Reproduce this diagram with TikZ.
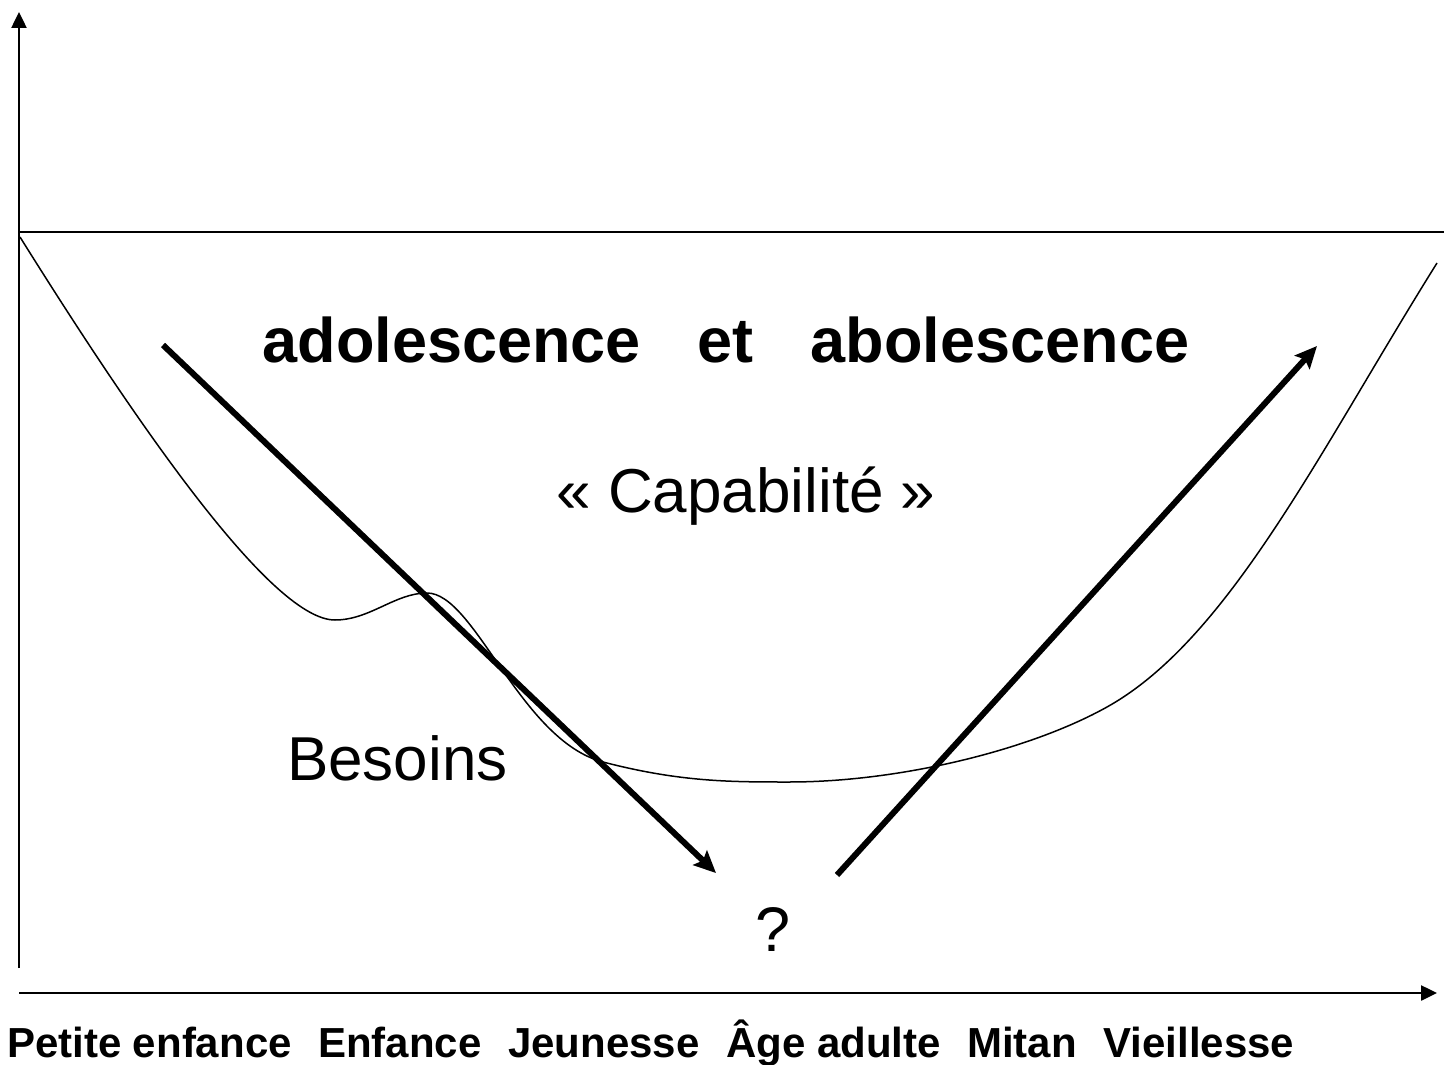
\documentclass[tikz,border=0pt]{standalone}
\usepackage{fontspec}
\setmainfont{Liberation Sans}
\usetikzlibrary{arrows.meta}
\tikzset{
  axis/.style={line width=2.5pt, -{Triangle[length=16pt,width=15pt]}},
  thinline/.style={line width=1.7pt},
  curveline/.style={line width=1.5pt, line join=round},
  bigarrow/.style={line width=6pt, -{Stealth[length=22pt,width=20pt,inset=4pt]}},
  txt/.style={inner sep=0pt, outer sep=0pt, font=\fontsize{62}{70}\selectfont},
  titletxt/.style={inner sep=0pt, outer sep=0pt, font=\fontsize{63}{70}\selectfont\bfseries},
  agetxt/.style={inner sep=0pt, outer sep=0pt, font=\fontsize{42}{48}\selectfont\bfseries}
}
\begin{document}
\begin{tikzpicture}[x=1pt,y=-1pt]
\useasboundingbox (0,0) rectangle (1444,1065);
% axes
\coordinate (ybot) at (19,968);
\coordinate (ytop) at (19,12);
\coordinate (xl) at (19,993);
\coordinate (xr) at (1437,993);
\draw[axis] (ybot) -- (ytop);
\draw[axis] (xl) -- (xr);
% horizontal reference line
\coordinate (hl) at (19,232);
\coordinate (hr) at (1444,232);
\draw[thinline] (hl) -- (hr);
% curve
\coordinate (c0) at (20,237);
\coordinate (c1) at (335,620);
\coordinate (c2) at (427,593);
\coordinate (c3) at (603,762);
\coordinate (c4) at (789,782);
\coordinate (c5) at (1107,707);
\coordinate (c6) at (1437,263);
\draw[curveline] (c0) .. controls (150,445) and (275,620) .. (c1)
  .. controls (370,620) and (395,593) .. (c2)
  .. controls (475,593) and (520,740) .. (c3)
  .. controls (680,782) and (730,782) .. (c4)
  .. controls (900,782) and (1030,750) .. (c5)
  .. controls (1229,639) and (1320,450) .. (c6);
% thick arrows
\coordinate (a1s) at (163,345);
\coordinate (a1e) at (716,873);
\coordinate (a2s) at (837,875);
\coordinate (a2e) at (1317,346);
\draw[bigarrow] (a1s) -- (a1e);
\draw[bigarrow] (a2s) -- (a2e);
% texts
\node[titletxt, anchor=base] (title) at (726,362)
  {adolescence\hspace{57pt}et\hspace{57pt}abolescence};
\node[txt, anchor=base] (capa) at (746,512) {« Capabilité »};
\node[txt, anchor=base west] (besoins) at (287,780) {Besoins};
\node[txt, font=\fontsize{63}{70}\selectfont, anchor=base] (q) at (773,951) {?};
\node[agetxt, anchor=base west] (ages) at (7,1057)
  {Petite enfance\hspace{26.5pt}Enfance\hspace{26.5pt}Jeunesse\hspace{26.5pt}Âge adulte\hspace{26.5pt}Mitan\hspace{26.5pt}Vieillesse};
\end{tikzpicture}
\end{document}
